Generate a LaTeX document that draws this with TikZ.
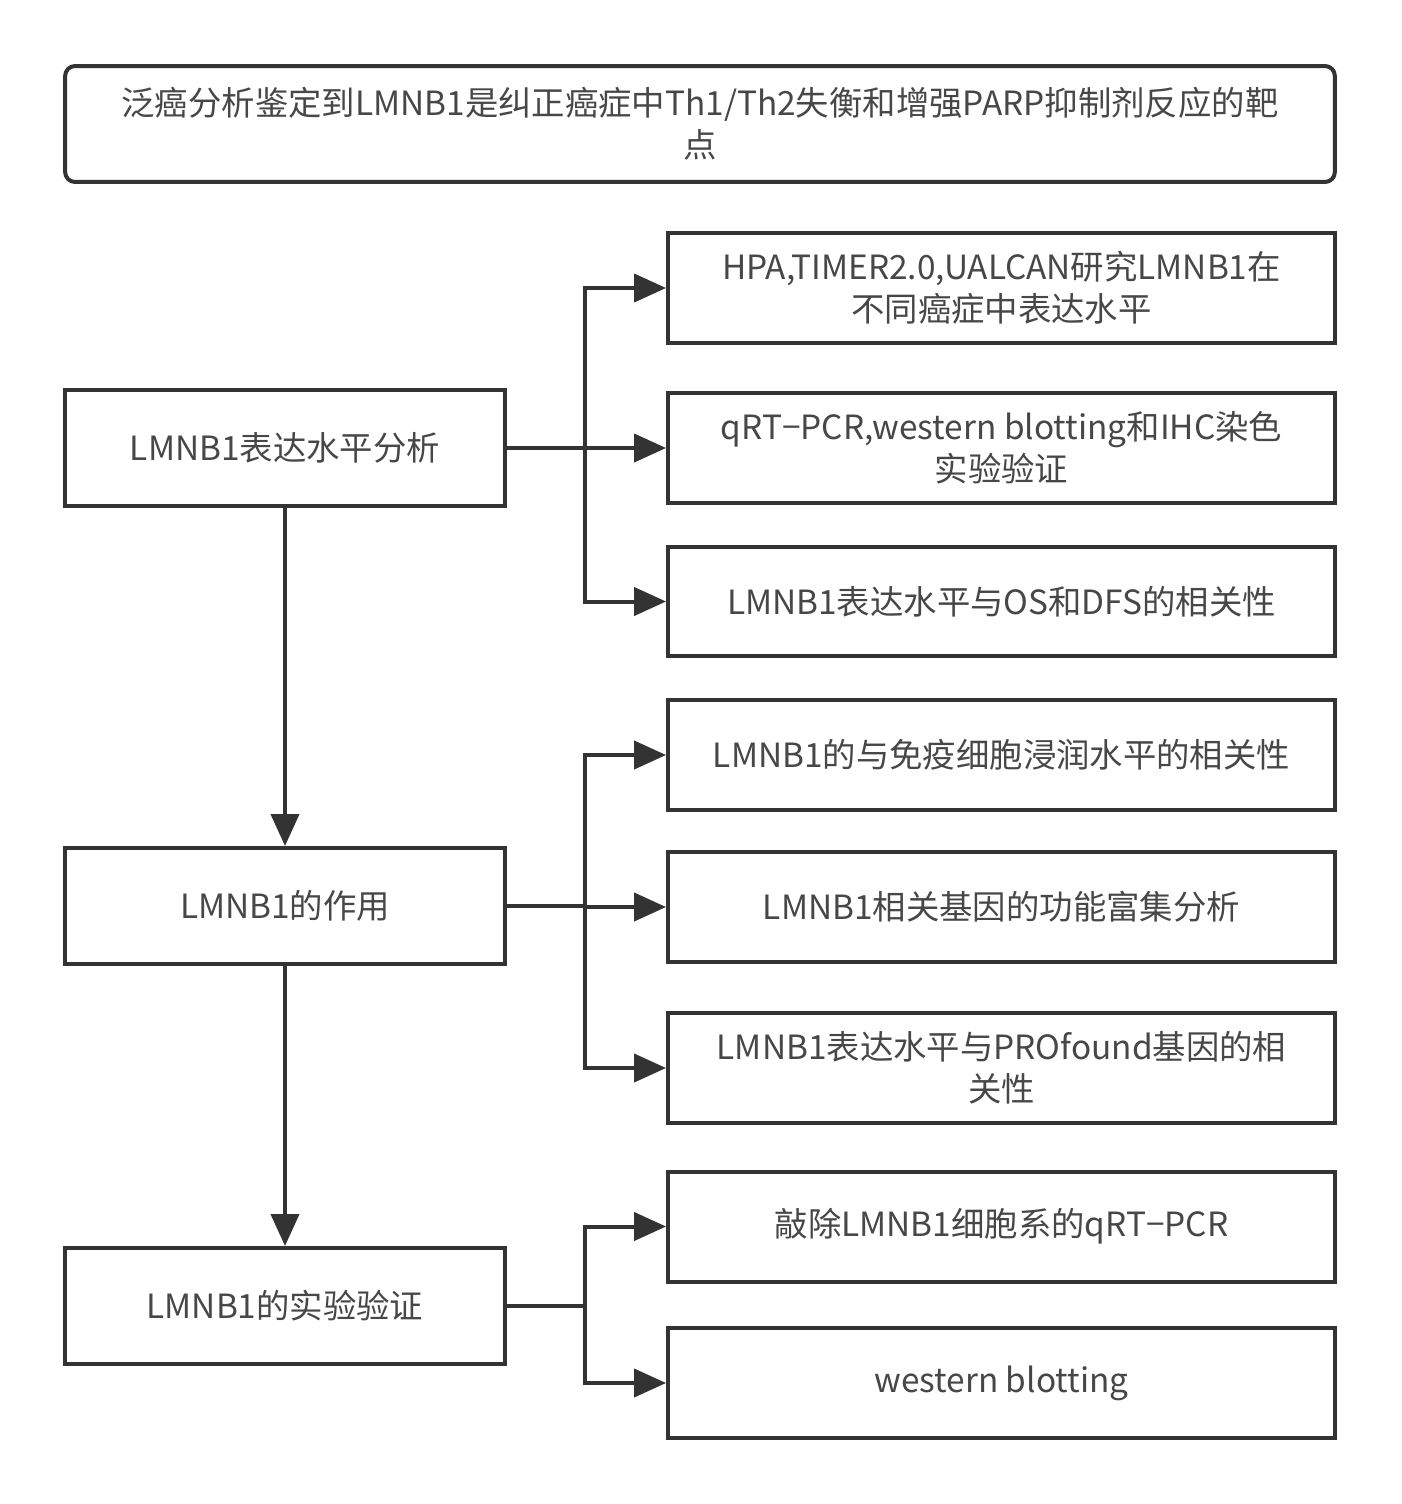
\documentclass[tikz,border=0pt]{standalone}
\usepackage{fontspec}
\setmainfont{Noto Sans CJK SC}
\usetikzlibrary{arrows.meta,calc}
\definecolor{ink}{HTML}{333333}

\begin{document}
\begin{tikzpicture}[x=0.02cm,y=-0.02cm,
  every node/.style={font=\fontsize{19}{24}\selectfont,text=ink!90,align=center},
  box/.style={draw=ink,line width=0.08cm,inner sep=0pt},
  leftbox/.style={box,minimum width=8.8cm,minimum height=2.32cm},
  rightbox/.style={box,minimum width=13.34cm,minimum height=2.2cm},
  link/.style={draw=ink,line width=0.08cm,-{Triangle[length=0.64cm,width=0.56cm]}}]
\useasboundingbox (0,0) rectangle (1401,1504);

% title
\node (title) [box,rounded corners=0.2cm,minimum width=25.4cm,minimum height=2.32cm] at (700,124)
  {泛癌分析鉴定到LMNB1是纠正癌症中Th1/Th2失衡和增强PARP抑制剂反应的靶\\点};

% left column
\node (expr)  [leftbox] at (285,448)  {LMNB1表达水平分析};
\node (role)  [leftbox] at (285,906)  {LMNB1的作用};
\node (valid) [leftbox] at (285,1306) {LMNB1的实验验证};

% right column
\node (hpa)    [rightbox] at (1001.5,288)  {HPA,TIMER2.0,UALCAN研究LMNB1在\\不同癌症中表达水平};
\node (qrt)    [rightbox] at (1001.5,448)  {qRT−PCR,western blotting和IHC染色\\实验验证};
\node (surv)   [rightbox] at (1001.5,601.5){LMNB1表达水平与OS和DFS的相关性};
\node (immune) [rightbox] at (1001.5,755)  {LMNB1的与免疫细胞浸润水平的相关性};
\node (enrich) [rightbox] at (1001.5,907)  {LMNB1相关基因的功能富集分析};
\node (prof)   [rightbox] at (1001.5,1068) {LMNB1表达水平与PROfound基因的相\\关性};
\node (knock)  [rightbox] at (1001.5,1226.5){敲除LMNB1细胞系的qRT−PCR};
\node (wb)     [rightbox] at (1001.5,1383) {western blotting};

% branch points
\coordinate (b1) at (585,448);
\coordinate (b2) at (585,906);
\coordinate (b3) at (585,1306);

\draw [link] (expr) -- (role);
\draw [link] (role) -- (valid);

\draw [link] (expr.east) -- (b1) |- (hpa.west);
\draw [link] (b1) -- (qrt.west);
\draw [link] (b1) |- (surv.west);

\draw [link] (role.east) -- (b2) |- (immune.west);
\draw [link] (b2) |- (enrich.west);
\draw [link] (b2) |- (prof.west);

\draw [link] (valid.east) -- (b3) |- (knock.west);
\draw [link] (b3) |- (wb.west);
\end{tikzpicture}
\end{document}
